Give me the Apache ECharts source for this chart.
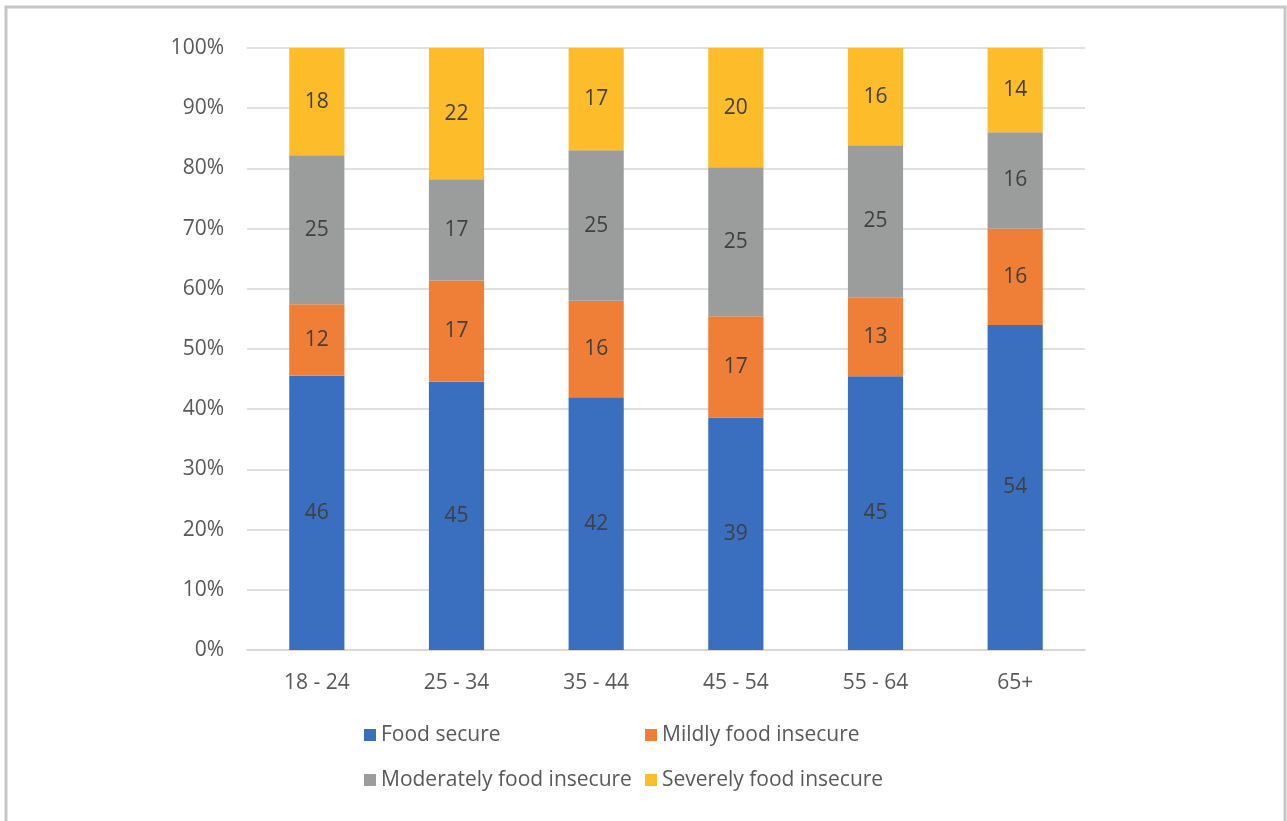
<!DOCTYPE html>
<html>
<head>
<meta charset="utf-8">
<script src="https://cdn.jsdelivr.net/npm/echarts@6/dist/echarts.min.js"></script>
<style>
  html, body { margin: 0; padding: 0; background: #fff; }
  #chart { width: 1287px; height: 821px; }
</style>
</head>
<body>
<div id="chart"></div>
<script>
// Grupos de edad
const ageGroups = ['18 - 24', '25 - 34', '35 - 44', '45 - 54', '55 - 64', '65+'];

// Valores (%) por categoría
const foodSecure = [46, 45, 42, 39, 45, 54];
const mildlyInsecure = [12, 17, 16, 17, 13, 16];
const moderatelyInsecure = [25, 17, 25, 25, 25, 16];
const severelyInsecure = [18, 22, 17, 20, 16, 14];

const seriesNames = ['Food secure', 'Mildly food insecure', 'Moderately food insecure', 'Severely food insecure'];
const colors = ['#3a6fbf', '#ef7e36', '#9b9c9c', '#fdbd2b'];
const fontFamily = '"Open Sans", Lato, sans-serif';

const rawSeries = [foodSecure, mildlyInsecure, moderatelyInsecure, severelyInsecure];
// Totales para apilar al 100%
const totals = ageGroups.map((_, i) => rawSeries.reduce((s, arr) => s + arr[i], 0));

const legendText = { fontFamily: fontFamily, fontSize: 21, color: '#595959', lineHeight: 24 };

var chart = echarts.init(document.getElementById('chart'));
var option = {
    animation: false,
    color: colors,
    graphic: [{
        type: 'rect',
        shape: { x: 6, y: 7, width: 1279, height: 900 },
        style: { fill: 'none', stroke: '#c6c6c6', lineWidth: 3 },
        silent: true
    }],
    grid: { left: 247, right: 202, top: 48, bottom: 171 },
    legend: [{
        orient: 'vertical',
        left: 359,
        top: 718,
        itemWidth: 12,
        itemHeight: 12,
        itemGap: 21,
        icon: 'rect',
        data: [seriesNames[0], seriesNames[2]],
        textStyle: legendText
    }, {
        orient: 'vertical',
        left: 640,
        top: 718,
        itemWidth: 12,
        itemHeight: 12,
        itemGap: 21,
        icon: 'rect',
        data: [seriesNames[1], seriesNames[3]],
        textStyle: legendText
    }],
    xAxis: {
        type: 'category',
        data: ageGroups,
        axisLine: { lineStyle: { color: '#d9d4d1', width: 1.5 } },
        axisTick: { show: false },
        axisLabel: { color: '#595959', fontFamily: fontFamily, fontSize: 21, margin: 23 }
    },
    yAxis: {
        type: 'value',
        min: 0,
        max: 100,
        interval: 10,
        axisLine: { show: false },
        axisTick: { show: false },
        splitLine: { lineStyle: { color: '#d9d4d1', width: 1.5 } },
        axisLabel: {
            color: '#595959',
            fontFamily: fontFamily,
            fontSize: 21,
            margin: 23,
            formatter: '{value}%'
        }
    },
    series: rawSeries.map((arr, k) => ({
        name: seriesNames[k],
        type: 'bar',
        stack: 'total',
        barWidth: '39.5%',
        data: arr.map((v, i) => v / totals[i] * 100),
        label: {
            show: true,
            position: 'inside',
            color: '#404040',
            fontFamily: fontFamily,
            fontSize: 21,
            formatter: p => String(arr[p.dataIndex])
        }
    }))
};
chart.setOption(option);
</script>
</body>
</html>
